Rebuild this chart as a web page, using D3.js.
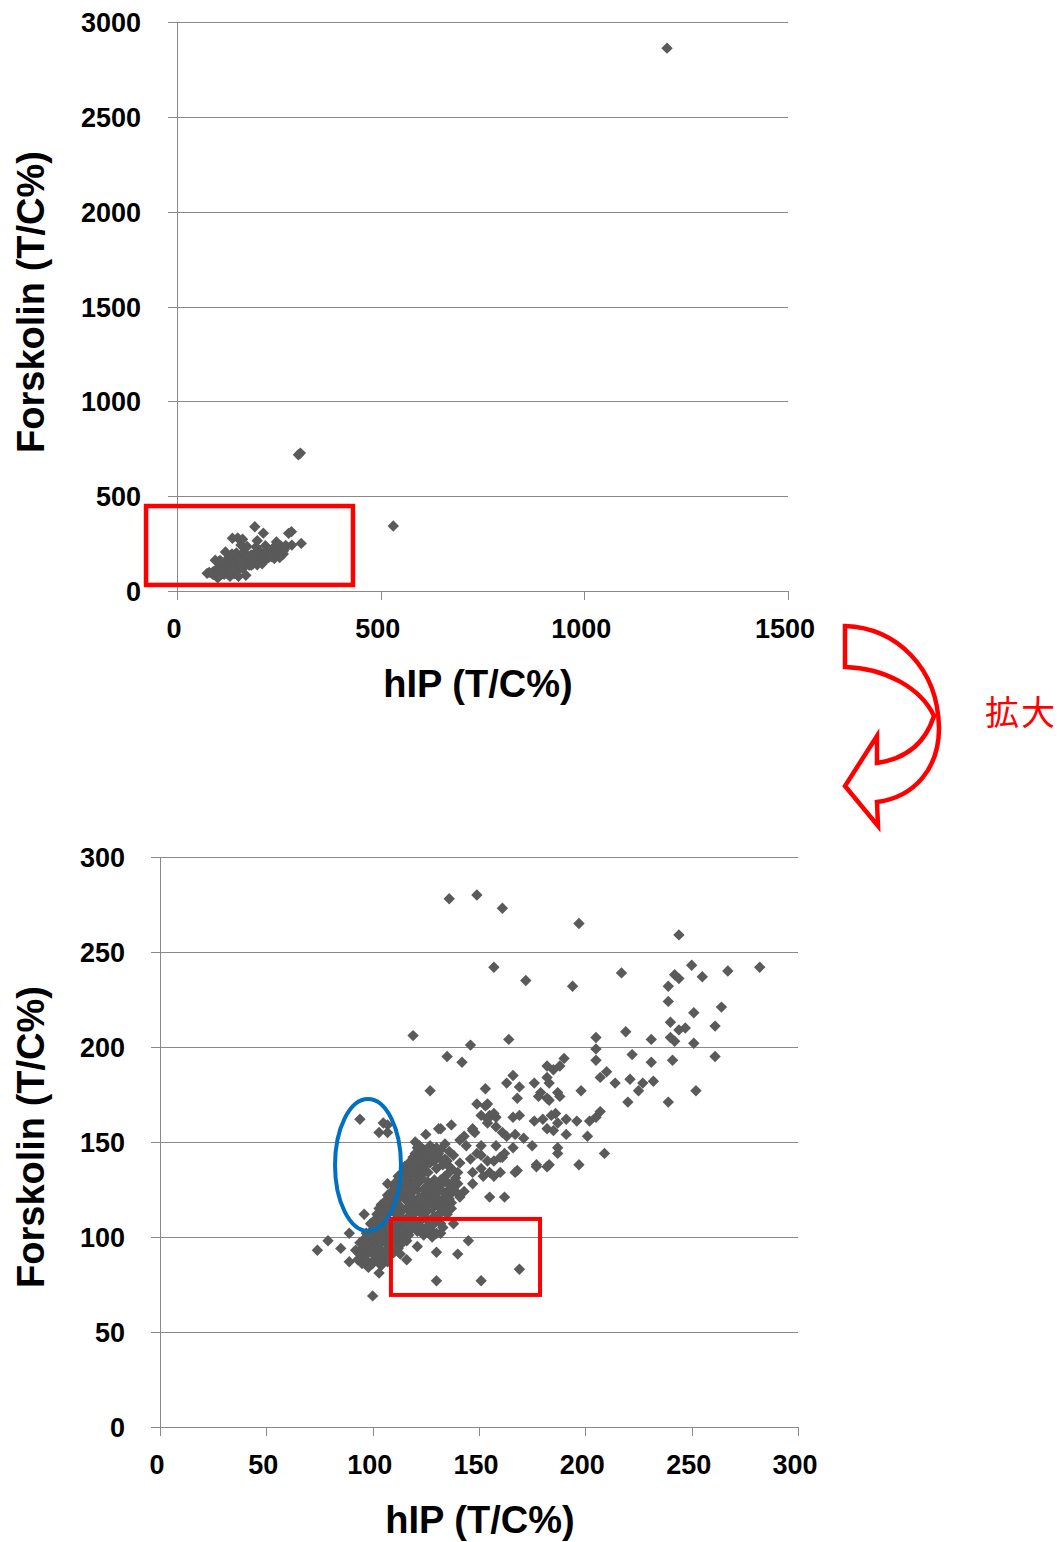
<!DOCTYPE html>
<html>
<head>
<meta charset="utf-8">
<script src="https://cdn.jsdelivr.net/npm/d3@7"></script>
<style>
html, body { margin: 0; padding: 0; background: #fff; }
svg { display: block; }
</style>
</head>
<body>
<script>
// Each entry is [hIP (T/C%), Forskolin (T/C%)]

// Dense central band of compounds
const denseCore = [
  [95,86],[98,84],[101,88],[104,85],[107,87],[96,90],[100,91],[103,89],[108,90],[93,88],
  [92,93],[95,94],[98,92],[101,95],[104,93],[107,94],[110,92],[99,97],[94,97],[106,97],
  [96,99],[99,100],[102,98],[105,100],[108,99],[111,97],[113,100],[116,98],[103,96],
  [97,102],[100,104],[103,103],[106,102],[109,104],[112,103],[115,102],[118,104],[121,103],[124,101],[127,104],[130,102],
  [99,107],[102,106],[105,108],[108,107],[111,109],[114,106],[117,108],[120,107],[123,109],[126,106],[129,108],[132,107],
  [102,112],[105,111],[108,113],[111,112],[114,114],[117,111],[120,113],[123,112],[126,114],[129,111],[132,113],[135,112],
  [104,117],[107,116],[110,118],[113,116],[116,119],[119,117],[122,116],[125,118],[128,117],[131,119],[134,116],[137,118],
  [107,122],[110,121],[113,123],[116,122],[119,124],[122,121],[125,123],[128,122],[131,124],[134,121],[137,123],
  [110,127],[113,126],[116,128],[119,127],[122,129],[125,126],[128,128],[131,127],[134,129],[137,126],[140,128],
  [112,132],[115,131],[118,133],[121,132],[124,134],[134,132],[136,134],[139,131],
  [115,137],[118,136],[121,138],[124,137],[127,139],[130,136],[133,138],[136,137],[141,139],
  [119,142],[122,141],[125,143],[128,142],[131,144],[134,141],[138,143],
  [121,147],[124,146],[127,148],[130,147],[134,149],
  [97,88],[100,86],[103,87],[106,89],[94,91],[97,94],[100,93],[103,91],[106,92],[109,95],[112,94],[97,96],
  [101,98],[104,99],[107,97],[110,100],[114,97],
  [99,101],[102,102],[105,104],[108,103],[111,101],[114,104],[117,101],[120,105],[123,104],[126,103],
  [101,109],[104,110],[107,106],[110,106],[113,108],[116,106],[119,110],[122,106],[125,110],[128,106],[131,110],
  [104,114],[107,114],[110,115],[113,111],[116,115],[119,114],[122,114],[125,115],[128,115],[131,116],[134,114],[137,115],
  [106,119],[109,120],[112,120],[115,121],[118,121],[121,119],[124,120],[127,120],[130,121],[133,119],[136,120],
  [109,124],[112,125],[115,125],[118,126],[121,125],[124,125],[127,125],[130,126],[133,124],[136,125],[139,124],
  [111,129],[114,130],[117,130],[120,129],[123,131],[126,129],[129,130],[132,130],[135,129],[138,129],
  [114,134],[117,135],[120,135],[123,135],[126,134],[137,136],[140,134],
  [117,139],[120,140],[123,140],[126,141],[129,140],[132,141],[135,140],
  [120,144],[123,145],[126,145],[129,145],[132,146],[136,145]
];

// Scattered compounds around the band
const spreadPoints = [
  [136,278],[149,280],[161,273],[157,242],[172,235],[119,206],[164,204],[146,201],[135,195],[142,192],[182,190],[188,190],
  [197,265],[244,259],[250,243],[242,238],[244,236],[255,237],[267,240],[282,242],[217,239],[194,232],[239,232],[239,224],
  [251,218],[264,221],[240,213],[244,209],[247,210],[261,211],[240,205],[242,203],[251,202],[219,208],[231,204],
  [205,205],[205,199],[205,193],[222,196],[231,192],[241,193],[261,195],[252,177],[239,171],[220,171],[210,187],[207,184],
  [214,181],[221,183],[227,181],[225,177],[232,182],[198,177],[188,174],[182,173],[207,166],[205,163],[182,184],[183,181],
  [190,194],[179,176],[186,165],[191,162],[196,161],[202,161],
  [166,185],[163,181],[169,179],[153,178],[168,173],[178,174],[183,172],[149,170],[153,169],[155,164],[158,163],[166,163],
  [169,164],[176,161],[180,162],[184,164],[187,160],[182,157],[185,156],[191,154],[201,153],[209,144],[147,157],[154,160],
  [158,158],[161,155],[163,153],[167,154],[171,152],[175,148],[187,147],[187,144],[177,138],[183,138],[197,138],[167,134],
  [158,148],[151,148],[149,144],[146,141],[161,142],[151,136],[155,134],[157,132],[152,132],[147,134],
  [176,181],[185,188],[187,176],[127,177],[157,165],[137,159],[132,157],[147,156],[148,155],[125,154],[120,150],[143,153],
  [141,151],[144,148],[151,143],[154,140],[157,140],[160,142],[162,144],[166,147],[168,135],[177,137],[182,137],[160,134],
  [147,128],[143,124],[141,121],[155,121],[162,121],
  [145,98],[140,91],[130,92],[121,95],[113,91],[116,88],[130,77],[151,77],[169,83],[133,105],[138,107],[128,100],[132,102],
  [107,128],[103,155],[107,159],[94,162],[96,112],[103,115],[107,119],
  [89,102],[79,98],[74,93],[85,94],[89,87],[100,69],[103,81],
  [154,170],[151,164],[154,162],[131,157],[122,148],[105,160],[107,155]
];

// Compounds outside the 0-300 window
const wideOutliers = [
  [1203,2862],[298,718],[303,727],[531,343],[191,339],[212,305],[274,304],[281,313],[305,251]
];

const fullXTicks = [0, 500, 1000, 1500];
const fullYTicks = [0, 500, 1000, 1500, 2000, 2500, 3000];
const zoomXTicks = [0, 50, 100, 150, 200, 250, 300];
const zoomYTicks = [0, 50, 100, 150, 200, 250, 300];

const xTitle = "hIP (T/C%)";
const yTitle = "Forskolin (T/C%)";
const zoomLabel = "拡大";

// Highlight regions, in data units of the panel they sit on
const overviewFrame = { x: [-76, 432], y: [32, 448] };
const lowFrame = { x: [108.6, 178.7], y: [69.5, 109.5] };
const ringCenter = [97.8, 137.9];
const ringRadius = [15.5, 34.7];

const allPoints = denseCore.concat(spreadPoints, wideOutliers);

const W = 1064, H = 1542;
const GRID = "#898989";
const MARK = "#5a5a5a";
const FONT = "'Liberation Sans', Arial, Helvetica, sans-serif";
const diamond = "M0,-5.7L5.7,0L0,5.7L-5.7,0Z";

const svg = d3.select("body").append("svg")
  .attr("width", W).attr("height", H)
  .attr("viewBox", `0 0 ${W} ${H}`);

function drawPanel(o) {
  const { x, y } = o;
  const [left, right] = x.range();
  const [bottom, top] = y.range();
  const g = svg.append("g");
  const lines = g.append("g").attr("shape-rendering", "crispEdges")
    .attr("stroke", GRID).attr("stroke-width", 1);

  // horizontal gridlines, each with its outer tick
  lines.selectAll(null).data(o.yTicks).join("line")
    .attr("x1", left - 9).attr("x2", right)
    .attr("y1", d => Math.round(y(d)) + 0.5).attr("y2", d => Math.round(y(d)) + 0.5);

  // vertical axis
  lines.append("line")
    .attr("x1", Math.round(left) + 0.5).attr("x2", Math.round(left) + 0.5)
    .attr("y1", top).attr("y2", bottom + 9);

  // x ticks
  lines.selectAll(null).data(o.xTicks).join("line")
    .attr("x1", d => Math.round(x(d)) + 0.5).attr("x2", d => Math.round(x(d)) + 0.5)
    .attr("y1", bottom).attr("y2", bottom + 9);

  // tick labels
  g.append("g").selectAll("text").data(o.yTicks).join("text")
    .attr("x", left - o.yLabelGap).attr("y", d => y(d) + 10)
    .attr("text-anchor", "end")
    .attr("font-family", FONT).attr("font-weight", "bold").attr("font-size", 27)
    .attr("fill", "#000").text(d => d);

  g.append("g").selectAll("text").data(o.xTicks).join("text")
    .attr("x", d => x(d) - 3).attr("y", bottom + 47)
    .attr("text-anchor", "middle")
    .attr("font-family", FONT).attr("font-weight", "bold").attr("font-size", 27)
    .attr("fill", "#000").text(d => d);

  // axis titles
  g.append("text")
    .attr("x", o.xTitleX).attr("y", bottom + 106)
    .attr("text-anchor", "middle")
    .attr("font-family", FONT).attr("font-weight", "bold").attr("font-size", 38)
    .attr("fill", "#000").text(xTitle);

  g.append("text")
    .attr("transform", `translate(44,${o.yTitleY}) rotate(-90)`)
    .attr("text-anchor", "middle")
    .attr("font-family", FONT).attr("font-weight", "bold").attr("font-size", 38)
    .attr("fill", "#000").text(yTitle);

  // compounds
  const [xd0, xd1] = x.domain();
  const [yd0, yd1] = y.domain();
  const visible = o.points.filter(d => d[0] >= xd0 && d[0] <= xd1 && d[1] >= yd0 && d[1] <= yd1);
  g.append("g").selectAll("path").data(visible).join("path")
    .attr("d", diamond)
    .attr("transform", d => `translate(${x(d[0])},${y(d[1])})`)
    .attr("fill", MARK);

  return g;
}

// Overview panel
const xFull = d3.scaleLinear().domain([0, 1500]).range([177, 788]);
const yFull = d3.scaleLinear().domain([0, 3000]).range([591, 22]);
const gFull = drawPanel({
  x: xFull, y: yFull, xTicks: fullXTicks, yTicks: fullYTicks,
  points: allPoints, yLabelGap: 36, xTitleX: 478, yTitleY: 302
});

gFull.append("rect")
  .attr("x", xFull(overviewFrame.x[0])).attr("y", yFull(overviewFrame.y[1]))
  .attr("width", xFull(overviewFrame.x[1]) - xFull(overviewFrame.x[0]))
  .attr("height", yFull(overviewFrame.y[0]) - yFull(overviewFrame.y[1]))
  .attr("fill", "none").attr("stroke", "#ff0000").attr("stroke-width", 4.5);

// Enlarged 0-300 panel
const xZoom = d3.scaleLinear().domain([0, 300]).range([160, 798]);
const yZoom = d3.scaleLinear().domain([0, 300]).range([1427, 857]);
const gZoom = drawPanel({
  x: xZoom, y: yZoom, xTicks: zoomXTicks, yTicks: zoomYTicks,
  points: allPoints, yLabelGap: 35, xTitleX: 480, yTitleY: 1137
});

gZoom.append("rect")
  .attr("x", xZoom(lowFrame.x[0])).attr("y", yZoom(lowFrame.y[1]))
  .attr("width", xZoom(lowFrame.x[1]) - xZoom(lowFrame.x[0]))
  .attr("height", yZoom(lowFrame.y[0]) - yZoom(lowFrame.y[1]))
  .attr("fill", "none").attr("stroke", "#ff0000").attr("stroke-width", 4);

gZoom.append("ellipse")
  .attr("cx", xZoom(ringCenter[0])).attr("cy", yZoom(ringCenter[1]))
  .attr("rx", xZoom(ringCenter[0] + ringRadius[0]) - xZoom(ringCenter[0]))
  .attr("ry", yZoom(ringCenter[1] - ringRadius[1]) - yZoom(ringCenter[1]))
  .attr("fill", "none").attr("stroke", "#0070c0").attr("stroke-width", 4);

// Curved arrow leading from the overview to the enlarged panel
svg.append("path")
  .attr("d", "M845,626 L845,667 C885,668 921,688 934,716 C925,744 905,759 877,763 L877,736 L845,786 L878,826 L877,802 C915,797 939,768 939,728 C938,668 897,628 845,626 Z")
  .attr("fill", "#fff").attr("stroke", "#ff0000").attr("stroke-width", 4.5)
  .attr("stroke-linejoin", "miter");

svg.append("text")
  .attr("x", 1021).attr("y", 725)
  .attr("text-anchor", "middle")
  .attr("font-family", "'Noto Sans CJK JP', 'Noto Sans CJK SC', sans-serif")
  .attr("font-size", 34).attr("letter-spacing", 2)
  .attr("fill", "#ff0000").text(zoomLabel);
</script>
</body>
</html>
